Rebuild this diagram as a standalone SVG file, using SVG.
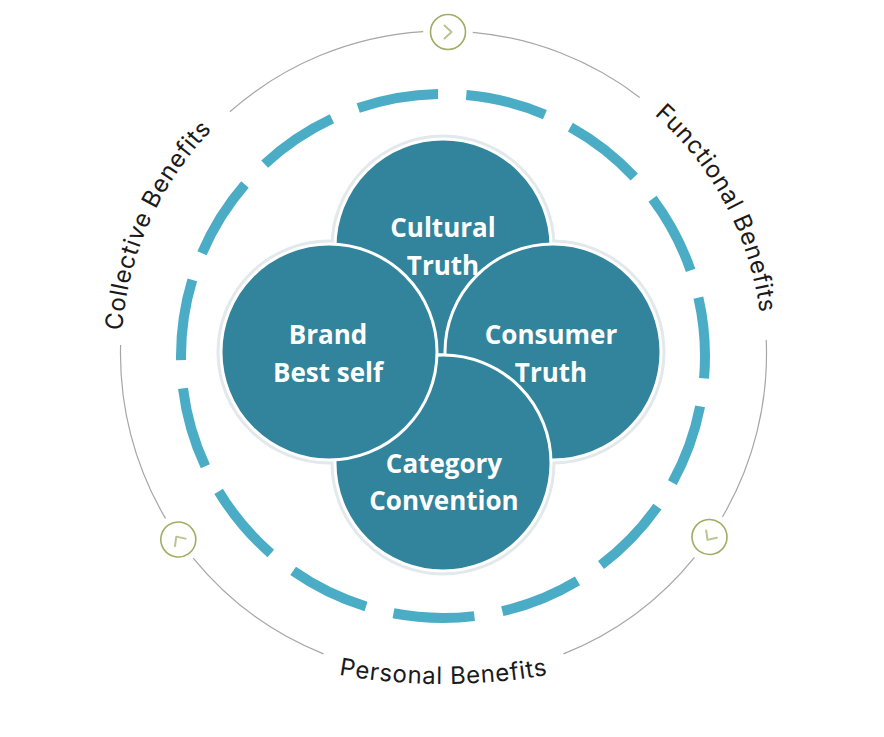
<svg xmlns="http://www.w3.org/2000/svg" width="884" height="737" viewBox="0 0 884 737">
<style>
.gray{fill:none;stroke:#a6a6a6;stroke-width:1.2}
.chev-c{fill:#fff;stroke:#9fae63;stroke-width:1.6}
.chev{fill:none;stroke:#b9c493;stroke-width:2;stroke-linecap:round;stroke-linejoin:round}
.ring{fill:none;stroke:#4bacc6;stroke-width:10}
.halo{fill:none;stroke:#e2e8ec;stroke-width:5}
.bub{fill:#31849b;stroke:#ffffff;stroke-width:3}
.in{font-family:"Open Sans","Noto Sans",sans-serif;font-weight:700;font-size:26px;fill:#ffffff;text-anchor:middle}
.out{font-family:Inter,"Open Sans",sans-serif;font-weight:400;font-size:24px;fill:#1a1a1a;letter-spacing:0.7px}
</style>
<defs>
<path id="pLeft" d="M126.4,409.9 A321,321 0 0,1 282.5,75.1"/>
<path id="pRight" d="M588.3,69.8 A319,319 0 0,1 760.1,392.9"/>
<path id="pBottom" d="M300,666.6 A600,600 0 0,0 587,666.6"/>
</defs>
<rect width="884" height="737" fill="#ffffff"/>
<g id="connectors">
<path class="gray" d="M472.8,32.3 A323,323 0 0,1 639.7,97.4"/>
<path class="gray" d="M766.2,339.9 A323,323 0 0,1 722.4,517.0"/>
<path class="gray" d="M694.5,557.3 A323,323 0 0,1 563.5,653.9"/>
<path class="gray" d="M323.5,653.9 A323,323 0 0,1 193.2,558.1"/>
<path class="gray" d="M165.5,518.4 A323,323 0 0,1 120.6,345.0"/>
<path class="gray" d="M229.9,111.7 A323,323 0 0,1 423.2,31.6"/>
<circle class="ring" cx="443" cy="356" r="262" pathLength="360" stroke-dasharray="17.8 6.2" stroke-dashoffset="12.9"/>
</g>
<g id="chevron-top" transform="translate(448,32)">
<circle class="chev-c" r="17.5"/>
<polyline class="chev" points="-3.5,-6.5 3.5,0 -3.5,6.5"/>
</g>
<g id="chevron-right" transform="translate(709.5,537) rotate(124.6)">
<circle class="chev-c" r="17.5"/>
<polyline class="chev" points="-3.5,-6.5 3.5,0 -3.5,6.5"/>
</g>
<g id="chevron-left" transform="translate(178.3,539.5) rotate(235)">
<circle class="chev-c" r="17.5"/>
<polyline class="chev" points="-3.5,-6.5 3.5,0 -3.5,6.5"/>
</g>
<g id="label-collective"><text class="out"><textPath href="#pLeft" startOffset="48.8%" text-anchor="middle">Collective Benefits</textPath></text></g>
<g id="label-functional"><text class="out"><textPath href="#pRight" startOffset="50%" text-anchor="middle">Functional Benefits</textPath></text></g>
<g id="label-personal"><text class="out"><textPath href="#pBottom" startOffset="50%" text-anchor="middle">Personal Benefits</textPath></text></g>
<g id="halos">
<circle class="halo" cx="443" cy="247" r="110"/>
<circle class="halo" cx="553" cy="352" r="110"/>
<circle class="halo" cx="443" cy="463" r="110"/>
<circle class="halo" cx="329" cy="352" r="110"/>
</g>
<g id="cultural"><circle class="bub" cx="443" cy="247" r="108"/></g>
<g id="consumer"><circle class="bub" cx="553" cy="352" r="108"/></g>
<g id="category"><circle class="bub" cx="443" cy="463" r="108"/></g>
<g id="brand"><circle class="bub" cx="329" cy="352" r="108"/></g>
<g id="texts">
<text class="in" x="443" y="237">Cultural</text>
<text class="in" x="443" y="275">Truth</text>
<text class="in" x="328" y="344">Brand</text>
<text class="in" x="328" y="382">Best self</text>
<text class="in" x="551" y="344">Consumer</text>
<text class="in" x="551" y="382">Truth</text>
<text class="in" x="444" y="473">Category</text>
<text class="in" x="444" y="510">Convention</text>
</g>
</svg>
